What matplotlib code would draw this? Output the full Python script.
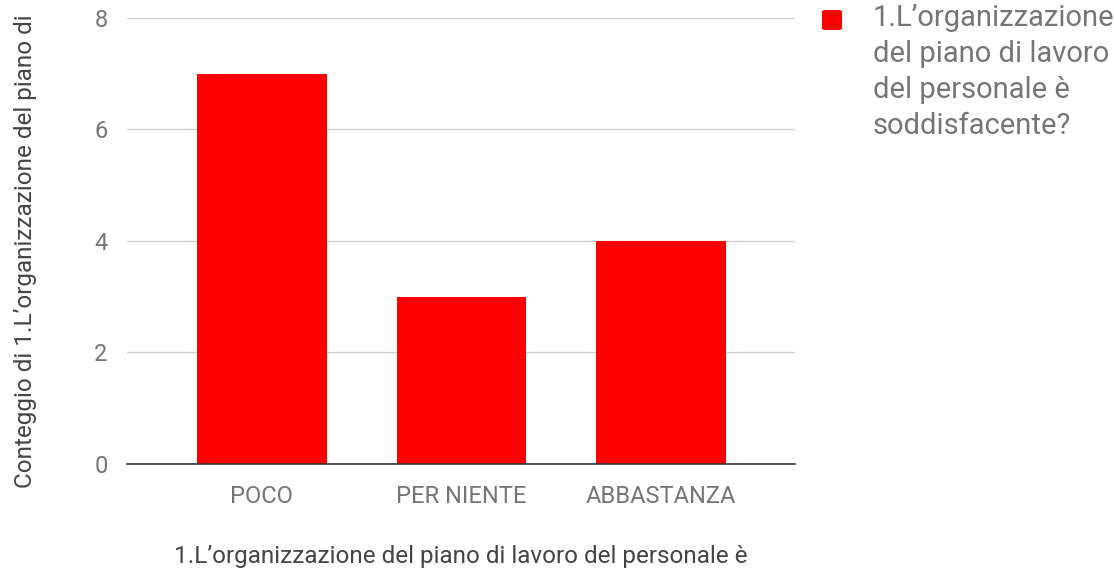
import matplotlib.pyplot as plt
from matplotlib.patches import FancyBboxPatch

# data
categories = ['POCO', 'PER NIENTE', 'ABBASTANZA']
counts = [7, 3, 4]
y_ticks = [0, 2, 4, 6, 8]
series_name = '1.L’organizzazione\ndel piano di lavoro\ndel personale è\nsoddisfacente?'
x_title = '1.L’organizzazione del piano di lavoro del personale è'
y_title = 'Conteggio di 1.L’organizzazione del piano di'

plt.rcParams['font.family'] = ['Roboto', 'DejaVu Sans']
gray = '#757575'
dark = '#444444'
red = '#ff0000'

fig = plt.figure(figsize=(11.14, 5.71), dpi=100)
ax = fig.add_axes([0.114, 0.1874, 0.5997, 0.7811])

ax.bar(range(len(categories)), counts, width=0.65, color=red, zorder=3)

ax.set_xlim(-0.675, 2.67)
ax.set_ylim(0, 8)
ax.set_yticks(y_ticks)
ax.set_xticks(range(len(categories)))
ax.set_xticklabels(categories)
ax.grid(axis='y', color='#cccccc', linewidth=1, zorder=0)
ax.tick_params(axis='both', length=0, labelsize=17, labelcolor=gray)
ax.tick_params(axis='x', pad=15)
ax.tick_params(axis='y', pad=14)
for s in ['top', 'right', 'left']:
    ax.spines[s].set_visible(False)
ax.spines['bottom'].set_color('#333333')
ax.spines['bottom'].set_linewidth(1.2)
ax.spines['bottom'].set_zorder(4)

ax.set_xlabel(x_title, fontsize=17.5, color=dark, labelpad=27)
fig.text(0.023, 0.56, y_title, rotation=90, fontsize=17.5, color=dark,
         ha='center', va='center')

# legend drawn by hand: square aligned with the first text line
fig.patches.append(FancyBboxPatch((822 / 1114, 1 - 30 / 571), 20 / 1114, 20 / 571,
                                  boxstyle='round,pad=0,rounding_size=0.003',
                                  facecolor=red, edgecolor='none',
                                  transform=fig.transFigure, figure=fig))
fig.text(873 / 1114, 1 - 4 / 571, series_name, fontsize=21, color=gray,
         ha='left', va='top', linespacing=1.36)

fig.savefig('out.png', dpi=100)
